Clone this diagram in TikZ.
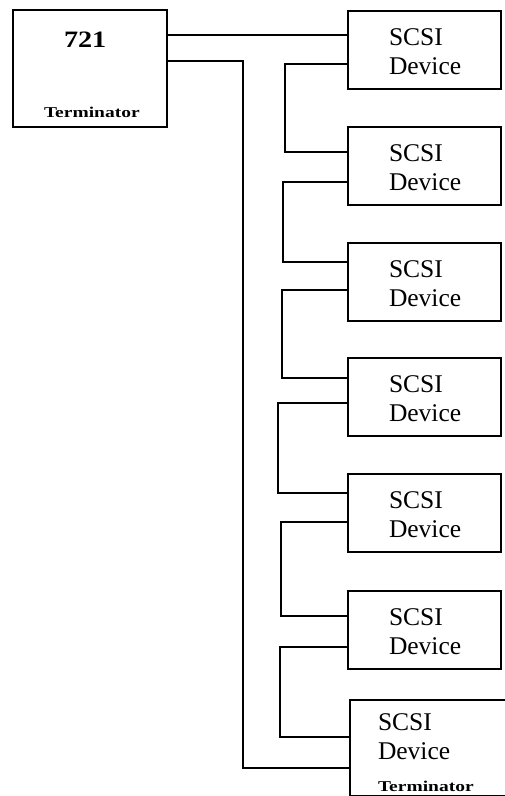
\documentclass[tikz,border=0pt]{standalone}
\usepackage{fontspec}
\setmainfont{Liberation Serif}
\begin{document}
\begin{tikzpicture}[x=1pt,y=-1pt,line width=2pt,
  box/.style={draw,rectangle,inner sep=0pt,anchor=north west,minimum width=153pt,minimum height=78pt},
  lbl/.style={inner sep=0pt,anchor=base west,font=\fontsize{25.5pt}{30pt}\selectfont},
  term/.style={inner sep=0pt,anchor=base west,font=\fontsize{15pt}{18pt}\selectfont\bfseries\addfontfeatures{FakeStretch=1.3}},
  wire/.style={draw,line width=2pt}]
\useasboundingbox (0,0) rectangle (505,796);
\clip (0,0) rectangle (505,796);
\fill[white] (0,0) rectangle (505,796);
% host adapter
\node[box,minimum width=154pt,minimum height=117pt] (m) at (12,9) {};
\node[inner sep=0pt,anchor=base west,font=\fontsize{23.5pt}{28pt}\selectfont\bfseries\addfontfeatures{FakeStretch=1.2}] (mt) at (63,47) {721};
\node[term] (mterm) at (43,117) {Terminator};
% devices
\foreach \i/\t in {1/10,2/126,3/242,4/357,5/473,6/590}{
  \node[box] (b\i) at (347,\t) {};
  \node[lbl] (s\i) at (388,\t+35) {SCSI};
  \node[lbl] (d\i) at (388,\t+64) {Device};
}
\node[box,minimum width=170pt,minimum height=96pt] (b7) at (349,699) {};
\node[lbl] (s7) at (377,730) {SCSI};
\node[lbl] (d7) at (377,759) {Device};
\node[term] (t7) at (377,791) {Terminator};
% connectors
\draw[wire] (m.east |- 0,35) -- (b1.west |- 0,35);
\draw[wire] (m.east |- 0,61) -| (243,768) -- (b7.west |- 0,768);
\draw[wire] (b1.west |- 0,64) -| (285,152) -- (b2.west |- 0,152);
\draw[wire] (b2.west |- 0,182) -| (283,262) -- (b3.west |- 0,262);
\draw[wire] (b3.west |- 0,290) -| (282,378) -- (b4.west |- 0,378);
\draw[wire] (b4.west |- 0,403) -| (278,493) -- (b5.west |- 0,493);
\draw[wire] (b5.west |- 0,522) -| (281,616) -- (b6.west |- 0,616);
\draw[wire] (b6.west |- 0,647) -| (280,737) -- (b7.west |- 0,737);
\end{tikzpicture}
\end{document}
